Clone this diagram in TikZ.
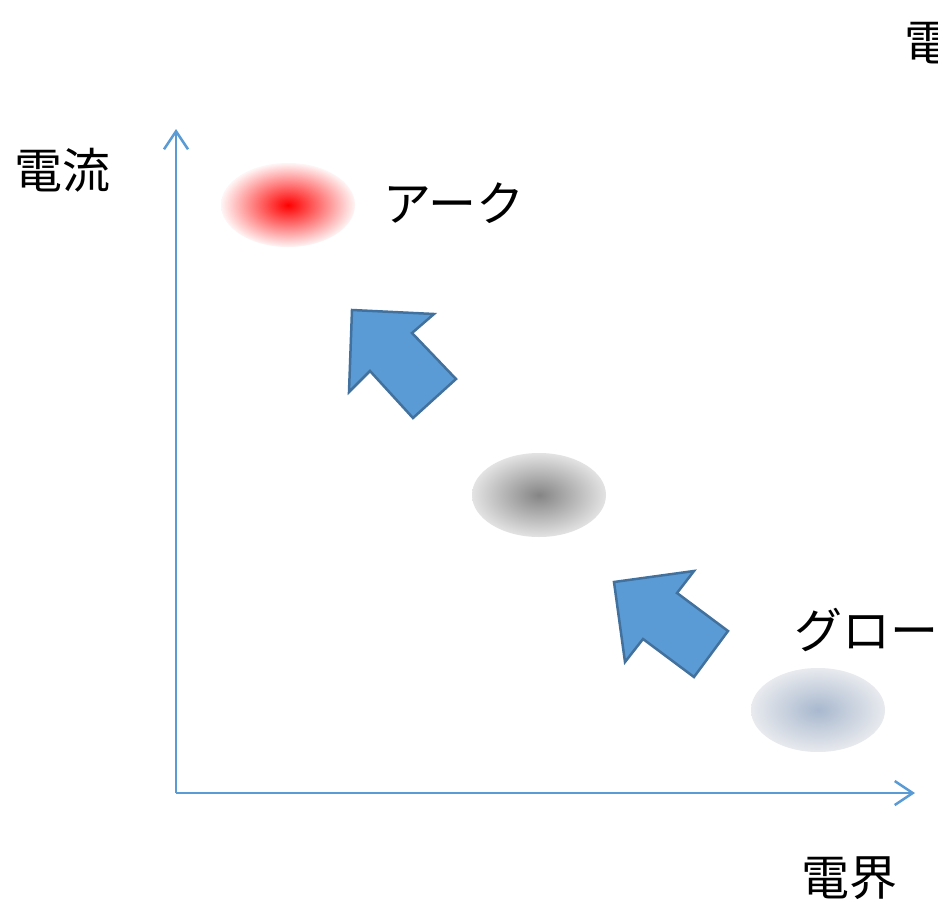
\documentclass[tikz,border=0pt]{standalone}
\usepackage{fontspec}
\setmainfont{Noto Sans CJK JP}
\usetikzlibrary{arrows.meta,shapes.geometric}
\definecolor{axisblue}{RGB}{91,155,213}
\definecolor{arrowfill}{RGB}{91,155,213}
\definecolor{arrowline}{RGB}{65,113,156}
\definecolor{glowc}{RGB}{168,184,206}
\definecolor{glowo}{RGB}{232,234,238}
\tikzset{
  axisline/.style={draw=axisblue, line width=2.5pt, -{Straight Barb[length=18pt,width=24pt,line width=2.5pt]}},
  blob/.style={ellipse, minimum width=134pt, minimum height=84pt, inner sep=0pt},
  blockarrow/.style={fill=arrowfill, draw=arrowline, line width=2.5pt, line join=miter},
  lbl/.style={font=\fontsize{48}{52}\selectfont, inner sep=0pt}
}
\begin{document}
\begin{tikzpicture}[x=1pt,y=-1pt]
\useasboundingbox (0,0) rectangle (938,902);
\fill[white] (0,0) rectangle (938,902);
% axes
\coordinate (o) at (176,793);
\coordinate (ytop) at (176,129);
\coordinate (xend) at (915,793);
\draw[axisline] (o) -- (ytop);
\draw[axisline] (o) -- (xend);
% blobs
\node[blob, inner color=red, outer color=red!4] (arc) at (288,205) {};
\node[blob, inner color=black!48, outer color=black!11] (mid) at (539,495) {};
\node[blob, inner color=glowc, outer color=glowo] (glow) at (818,710) {};
% block arrows
\draw[blockarrow] (352,310) -- (434,314) -- (412,333) -- (456,379) -- (413,418) -- (370,371) -- (349,392) -- cycle;
\draw[blockarrow] (614,582) -- (694,571) -- (677,593) -- (728,631) -- (694,677) -- (643,639) -- (625,662) -- cycle;
% labels
\node[lbl] (ylabel) at (62,170) {電流};
\node[lbl] (arclabel) at (454,203) {アーク};
\node[lbl] (glowlabel) at (866,630) {グロー};
\node[lbl] (xlabel) at (849,878) {電界};
\node[lbl, anchor=west] (toplabel) at (904,43) {電};
\end{tikzpicture}
\end{document}
